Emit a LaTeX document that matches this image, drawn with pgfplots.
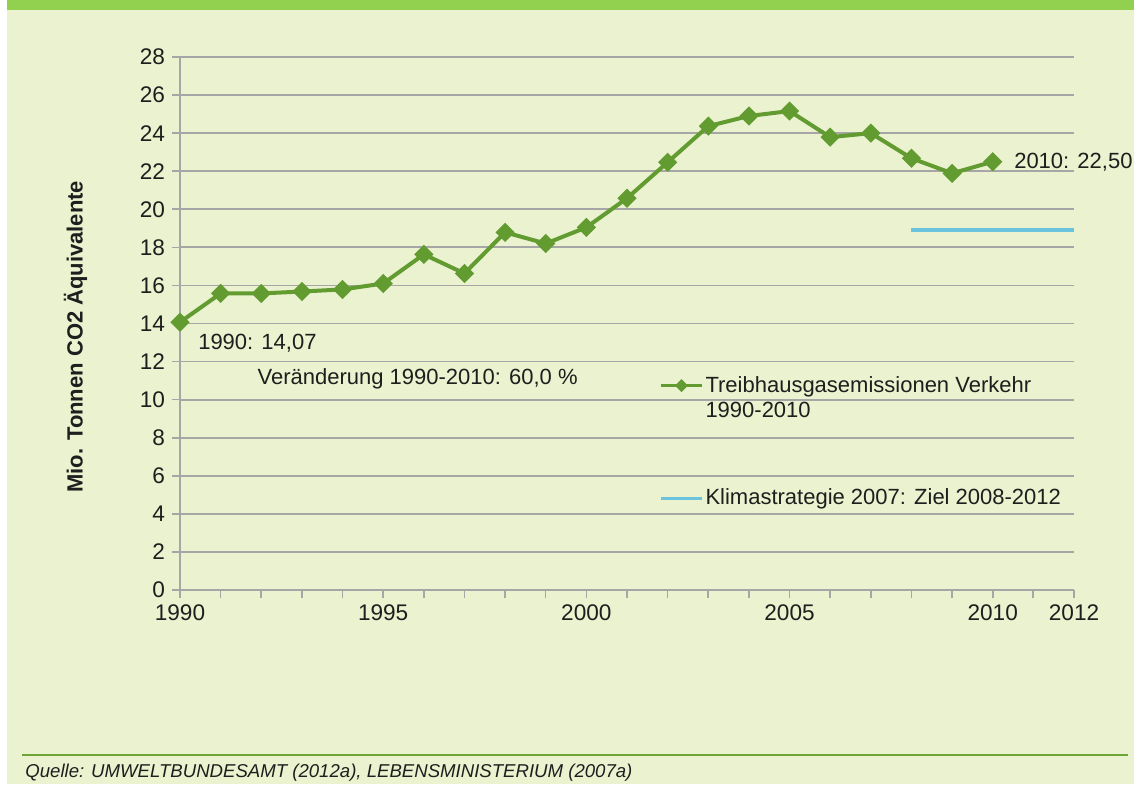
\documentclass[border=0pt]{standalone}
\usepackage{fontspec}
\setmainfont{Liberation Sans}
\usepackage{pgfplots}
\usepackage{pgfplotstable}
\pgfplotsset{compat=1.18}
\definecolor{bg}{RGB}{235,242,207}
\definecolor{topbar}{RGB}{146,208,80}
\definecolor{lgreen}{RGB}{98,155,48}
\definecolor{lblue}{RGB}{106,196,222}
\definecolor{gridc}{RGB}{166,166,166}
\definecolor{txt}{RGB}{30,30,30}
\definecolor{bline}{RGB}{110,165,55}

\pgfplotstableread{
year value
1990 14.07
1991 15.58
1992 15.58
1993 15.68
1994 15.79
1995 16.10
1996 17.63
1997 16.63
1998 18.79
1999 18.20
2000 19.05
2001 20.58
2002 22.47
2003 24.37
2004 24.90
2005 25.16
2006 23.79
2007 24.00
2008 22.68
2009 21.89
2010 22.50
}\emissions

\pgfplotstableread{
year value
2008 18.89
2012 18.89
}\ziel

\begin{document}
\begin{tikzpicture}[x=1pt,y=1pt]
\useasboundingbox (0,0) rectangle (567,392);
\fill[white] (0,0) rectangle (567,392);
\fill[bg] (3.5,0) rectangle (567,392);
\fill[topbar] (3.5,387) rectangle (567,392);
\draw[bline, line width=1pt] (11,14.5) -- (564,14.5);
\node[anchor=base west, inner sep=0pt, font=\fontsize{9.3}{11}\selectfont\itshape, text=txt] at (12.5,3.5) {Quelle: UMWELTBUNDESAMT (2012a), LEBENSMINISTERIUM (2007a)};
\begin{axis}[
  at={(90pt,97pt)}, anchor=south west,
  scale only axis, width=447pt, height=266.5pt,
  xmin=1990, xmax=2012, ymin=0, ymax=28,
  axis lines=left, axis line style={-, gridc, line width=0.8pt},
  xtick={1990,1995,2000,2005,2010,2012},
  minor xtick={1990,...,2012},
  ytick={0,2,...,28},
  tick align=outside, major tick length=4pt, minor tick length=4pt,
  tick style={gridc, line width=0.8pt},
  ymajorgrids, grid style={gridc, line width=0.9pt},
  ticklabel style={font=\fontsize{11.3}{13}\selectfont, text=txt},
  /pgf/number format/assume math mode=true,
  /pgf/number format/1000 sep={},
  ylabel={Mio. Tonnen CO2 Äquivalente},
  ylabel style={font=\fontsize{11}{13}\selectfont\bfseries, text=txt, at={(axis description cs:-0.117,0.475)}, anchor=center},
  clip=false,
  legend cell align=left,
  legend style={at={(axis cs:2001.79,11.4)}, anchor=north west, draw=none, fill=none, inner sep=0pt,
    row sep=44.5pt,
    nodes={inner sep=1pt, text=txt, font=\fontsize{11}{12.5}\selectfont},
    /tikz/every even column/.style={column sep=1pt}},
]
\addplot[lgreen, line width=2pt, mark=square*, mark size=2.4pt, mark options={rotate=45, solid},
  legend image code/.code={%
    \draw[lgreen, line width=1.5pt] (0pt,0pt) -- (20.5pt,0pt);
    \draw[lgreen, mark=square*, mark size=1.3pt, mark options={rotate=45}] plot coordinates {(10.25pt,0pt)};}]
  table[x=year, y=value] {\emissions};
\addlegendentry{{\begin{tabular}[t]{@{}l@{}}Treibhausgasemissionen Verkehr\\1990-2010\end{tabular}}}
\addplot[lblue, line width=2pt,
  legend image code/.code={\draw[lblue, line width=1.5pt] (0pt,0pt) -- (20.5pt,0pt);}]
  table[x=year, y=value] {\ziel};
\addlegendentry{Klimastrategie 2007: Ziel 2008-2012}
\node[anchor=west, inner sep=0pt, text=txt, font=\fontsize{11}{13}\selectfont] at (axis cs:1990.44,12.97) {1990: 14,07};
\node[anchor=west, inner sep=0pt, text=txt, font=\fontsize{11}{13}\selectfont] at (axis cs:1991.9,11.08) {Veränderung 1990-2010: 60,0 \%};
\node[anchor=west, inner sep=0pt, text=txt, font=\fontsize{11}{13}\selectfont] at (axis cs:2010.52,22.48) {2010: 22,50};
\end{axis}
\end{tikzpicture}
\end{document}
